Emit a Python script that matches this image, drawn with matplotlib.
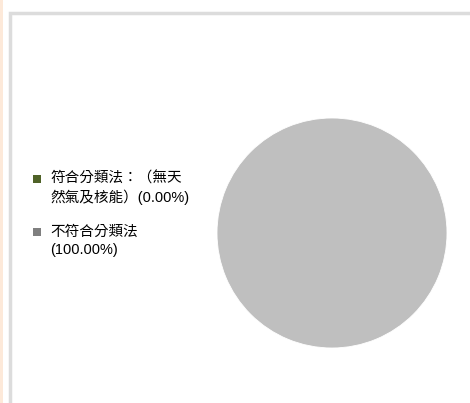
import matplotlib.pyplot as plt
from matplotlib.patches import Rectangle

plt.rcParams['font.family'] = ['Liberation Sans', 'Noto Sans CJK TC', 'DejaVu Sans']

labels = ['符合分類法：（無天\n然氣及核能）(0.00%)', '不符合分類法\n(100.00%)']
values = [0.0, 100.0]
colors = ['#4f6228', '#bfbfbf']
legend_colors = ['#4f6228', '#7f7f7f']

W, H = 470, 403
fig = plt.figure(figsize=(W / 100, H / 100), dpi=100)
fig.patch.set_facecolor('white')


def px(x, y):
    return x / W, 1 - y / H


# left orange strip and grey frame
fig.add_artist(Rectangle((0, 0), 3 / W, 1, transform=fig.transFigure,
                         facecolor='#fde9d9', edgecolor='none'))
fig.add_artist(Rectangle((9.5 / W, -0.1), 1.2, (H - 12.5) / H + 0.1, transform=fig.transFigure,
                         facecolor='none', edgecolor='#dcdcdc', linewidth=2.5))

# pie centred at (332, 233), radius 115 px
cx, cy, r = 332, 233, 115
ax = fig.add_axes([(cx - r) / W, (H - cy - r) / H, 2 * r / W, 2 * r / H])
ax.pie(values, colors=colors, startangle=90, counterclock=False,
       radius=1.0, wedgeprops=dict(edgecolor='white', linewidth=0.6))
ax.set_xlim(-1.0, 1.0)
ax.set_ylim(-1.0, 1.0)
ax.set_aspect('equal')

# legend on the left, marker next to the first line of each label
y0 = 179
for i, (lab, c) in enumerate(zip(labels, legend_colors)):
    y = y0 + 53 * i
    fig.add_artist(Rectangle(px(33, y + 4), 8 / W, 8 / H, transform=fig.transFigure,
                             facecolor=c, edgecolor='none'))
    for j, line in enumerate(lab.split('\n')):
        x, yy = px(50, y + 18 * j)
        fig.text(x, yy, line, fontsize=10.5, va='center', ha='left', color='black')

fig.savefig('out.png', dpi=100)
